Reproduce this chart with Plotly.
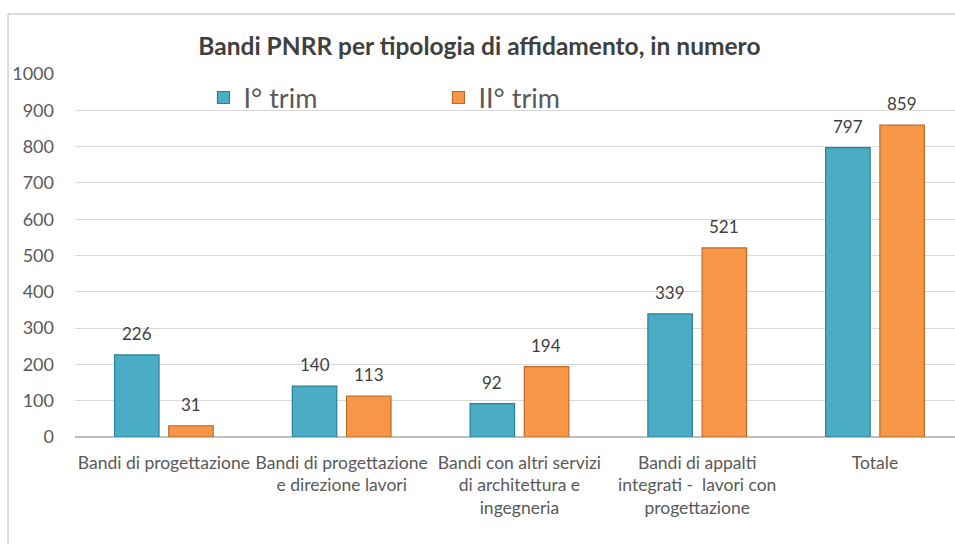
import plotly.graph_objects as go

categories = [
    "Bandi di progettazione",
    "Bandi di progettazione<br>e direzione lavori",
    "Bandi con altri servizi<br>di architettura e<br>ingegneria",
    "Bandi di appalti<br>integrati -  lavori con<br>progettazione",
    "Totale",
]
trim1 = [226, 140, 92, 339, 797]
trim2 = [31, 113, 194, 521, 859]
series_names = ["I° trim", "II° trim"]
y_ticks = [0, 100, 200, 300, 400, 500, 600, 700, 800, 900, 1000]

FONT = "Lato"
GRAY = "#595959"
DARK = "#404040"

fig = go.Figure()
fig.add_trace(go.Bar(
    name=series_names[0], x=categories, y=trim1,
    marker=dict(color="#4BACC6", line=dict(color="#2B7F96", width=1.2)),
))
fig.add_trace(go.Bar(
    name=series_names[1], x=categories, y=trim2,
    marker=dict(color="#F79646", line=dict(color="#B86A2A", width=1.2)),
))

# data labels placed above each bar, shifted to its slot in the group
for vals, shift in ((trim1, -27), (trim2, 27)):
    for c, v in zip(categories, vals):
        fig.add_annotation(x=c, y=v, xref="x", yref="y", text=str(v),
                           showarrow=False, yanchor="bottom", xanchor="center",
                           xshift=shift, yshift=9,
                           font=dict(family=FONT, size=17, color=DARK))

fig.update_layout(
    width=955, height=544,
    paper_bgcolor="white", plot_bgcolor="white",
    margin=dict(l=75, r=0, t=74, b=107),
    barmode="group", bargap=0.39, bargroupgap=0.18,
    font=dict(family=FONT, color=GRAY),
    title=dict(text="<b>Bandi PNRR per tipologia di affidamento, in numero</b>",
               x=0.502, xanchor="center", y=0.915, yanchor="middle",
               font=dict(family=FONT, size=24.5, color=DARK)),
    legend=dict(orientation="h", x=0.146, y=0.934, xanchor="left", yanchor="middle",
                entrywidth=190, entrywidthmode="pixels",
                font=dict(family=FONT, size=27, color=GRAY), bgcolor="rgba(0,0,0,0)"),
    showlegend=True,
)
fig.update_xaxes(
    type="category", range=[-0.5, 4.45],
    tickfont=dict(family=FONT, size=17.5, color=GRAY),
    showgrid=False, ticks="", showline=False, ticklabelstandoff=13,
)
fig.update_yaxes(
    range=[0, 1000], tickvals=y_ticks, ticktext=[str(v) for v in y_ticks],
    tickfont=dict(family=FONT, size=18, color=GRAY),
    showgrid=True, gridcolor="#D9D9D9", gridwidth=1,
    zeroline=True, zerolinecolor="#BFBFBF", zerolinewidth=1.5,
    ticks="", ticklabelstandoff=20,
)

# chart frame border (left and top)
fig.add_shape(type="line", xref="paper", yref="paper",
              x0=-0.0761, x1=-0.0761, y0=-0.3, y1=1.165,
              line=dict(color="#D0D0D0", width=1.5))
fig.add_shape(type="line", xref="paper", yref="paper",
              x0=-0.0761, x1=1.0, y0=1.165, y1=1.165,
              line=dict(color="#D0D0D0", width=1.5))

fig.write_html("out.html", config={"displayModeBar": False},
               post_script="document.body.style.margin='0';document.body.style.overflow='hidden';")
